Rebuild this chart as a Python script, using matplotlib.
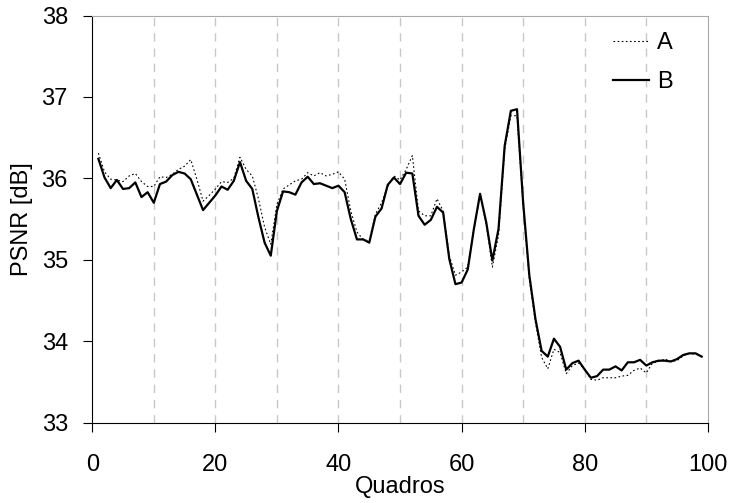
import numpy as np
import matplotlib
matplotlib.use("Agg")
import matplotlib.pyplot as plt

plt.rcParams["font.family"] = ["Liberation Sans", "DejaVu Sans"]

# quadros 1..99
frames = np.arange(1, 100)

psnr_a = [36.31, 36.08, 35.99, 35.98, 35.96, 36.03, 36.06, 35.96, 35.90, 35.90,
          36.02, 36.01, 36.05, 36.11, 36.15, 36.23, 35.99, 35.72, 35.79, 35.87,
          35.96, 35.95, 36.00, 36.26, 36.11, 36.03, 35.75, 35.40, 35.19, 35.68,
          35.87, 35.92, 35.97, 35.99, 36.07, 36.03, 36.07, 36.03, 36.05, 36.08,
          35.99, 35.60, 35.34, 35.25, 35.23, 35.56, 35.70, 35.90, 36.03, 35.98,
          36.11, 36.28, 35.60, 35.54, 35.54, 35.75, 35.60, 35.05, 34.81, 34.85,
          34.91, 35.38, 35.79, 35.44, 34.91, 35.30, 36.36, 36.77, 36.77, 35.66,
          34.76, 34.23, 33.80, 33.66, 33.90, 33.86, 33.60, 33.70, 33.73, 33.66,
          33.53, 33.52, 33.55, 33.55, 33.55, 33.57, 33.58, 33.64, 33.67, 33.61,
          33.73, 33.75, 33.78, 33.75, 33.76, 33.82, 33.85, 33.84, 33.81]

psnr_b = [36.24, 36.01, 35.88, 35.98, 35.87, 35.88, 35.95, 35.77, 35.83, 35.70,
          35.93, 35.96, 36.04, 36.08, 36.06, 35.99, 35.80, 35.61, 35.70, 35.79,
          35.90, 35.86, 35.97, 36.20, 35.97, 35.87, 35.52, 35.21, 35.05, 35.60,
          35.84, 35.83, 35.80, 35.95, 36.02, 35.93, 35.94, 35.91, 35.88, 35.91,
          35.83, 35.50, 35.25, 35.25, 35.21, 35.53, 35.63, 35.92, 36.01, 35.93,
          36.07, 36.06, 35.54, 35.43, 35.49, 35.65, 35.58, 35.01, 34.70, 34.72,
          34.88, 35.38, 35.81, 35.46, 34.99, 35.38, 36.40, 36.83, 36.85, 35.70,
          34.81, 34.27, 33.88, 33.81, 34.03, 33.93, 33.65, 33.73, 33.76, 33.65,
          33.55, 33.57, 33.65, 33.65, 33.69, 33.64, 33.74, 33.74, 33.77, 33.70,
          33.74, 33.76, 33.76, 33.75, 33.78, 33.83, 33.85, 33.85, 33.81]

fig = plt.figure(figsize=(7.32, 5.03), dpi=100)
ax = fig.add_axes([0.126, 0.16, 0.841, 0.809])

# grade vertical tracejada a cada 10 quadros
for gx in range(10, 100, 10):
    ax.axvline(gx, color="#c8c8c8", lw=1.0, ls=(0, (6, 5)), zorder=0)

ax.plot(frames, psnr_a, color="black", lw=0.8, ls=(0, (1.5, 2.2)), label="A")
ax.plot(frames, psnr_b, color="black", lw=1.6, label="B")

ax.set_xlim(0, 100)
ax.set_ylim(33, 38)
ax.set_xticks(range(0, 101, 20))
ax.set_yticks(range(33, 39))
ax.tick_params(direction="out", length=6.5, width=0.8, labelsize=17)
ax.tick_params(axis="x", pad=16)
ax.tick_params(axis="y", pad=11)
for s in ("top", "right"):
    ax.spines[s].set_color("#a8a8a8")
for s in ("left", "bottom"):
    ax.spines[s].set_color("black")

ax.set_xlabel("Quadros", fontsize=17, labelpad=0.5)
ax.set_ylabel("PSNR [dB]", fontsize=17, labelpad=6)

ax.legend(loc="upper right", bbox_to_anchor=(0.958, 0.982), borderaxespad=0,
          frameon=False, fontsize=17, handlelength=1.5,
          handletextpad=0.35, labelspacing=0.7)

fig.savefig("out.png", dpi=100)
